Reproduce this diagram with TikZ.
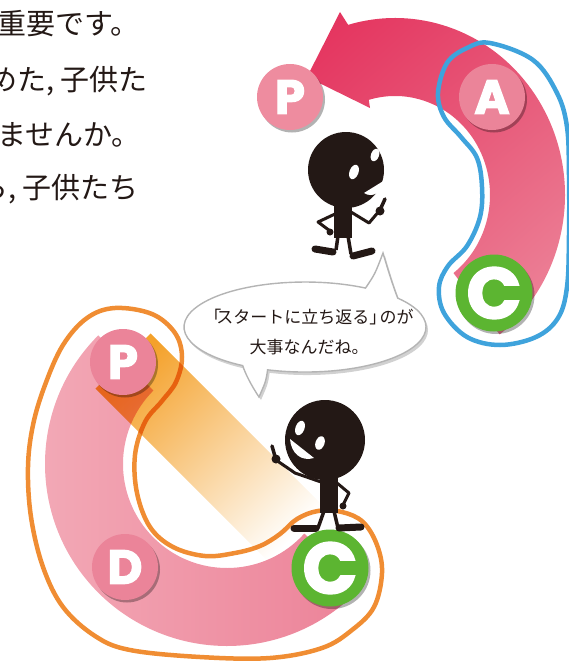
\documentclass[tikz,border=0pt]{standalone}
\usepackage{fontspec}
\newfontfamily\jpfont{Noto Sans CJK JP}
\newfontfamily\letterfont{Poppins}[BoldFeatures={FakeBold=2.5}]
\usetikzlibrary{calc,shadows,shadings}

\definecolor{inkc}{HTML}{231815}
\definecolor{arrowUL}{HTML}{E42F5B}
\definecolor{arrowUR}{HTML}{E65576}
\definecolor{arrowLL}{HTML}{E8607E}
\definecolor{arrowLR}{HTML}{EE8DA0}
\definecolor{bandL}{HTML}{F3AAB7}
\definecolor{bandR}{HTML}{EC8298}
\definecolor{pinkc}{HTML}{EB8499}
\definecolor{toppink}{HTML}{EE8C9F}
\definecolor{greenc}{HTML}{5CB531}
\definecolor{bluec}{HTML}{3FA3DC}
\definecolor{orangec}{HTML}{F08D33}
\definecolor{beamc}{HTML}{F4A12A}
\definecolor{bubbleline}{HTML}{B4B4B4}

\tikzset{
  bodytext/.style={font=\jpfont\fontsize{29}{29}\selectfont, text=inkc, inner sep=0pt, anchor=base west},
  stagecircle/.style={circle, inner sep=0pt, text=white,
    drop shadow={shadow xshift=2pt, shadow yshift=-2.5pt, opacity=0.3, fill=black}},
  pinkstage/.style={stagecircle, fill=pinkc, minimum size=66pt,
    font=\letterfont\bfseries\fontsize{48}{48}\selectfont},
  greenstage/.style={stagecircle, fill=greenc, minimum size=77pt,
    font=\letterfont\bfseries\fontsize{72}{72}\selectfont},
  limb/.style={inkc, line width=3pt, line join=round, line cap=round},
  leg/.style={inkc, line width=3.5pt},
  foot/.style={inkc, line width=7pt, line cap=round},
  outline/.style={line width=4.5pt},
}

\begin{document}
\begin{tikzpicture}[x=1pt,y=-1pt]
\useasboundingbox (0,0) rectangle (569,661);

% ---- body text on the left (runs on past the page edge) ----
\node[bodytext] (line1) at (-3,35)  {重要です。};
\node[bodytext] (line2) at (-12,90)  {めた, 子供た};
\node[bodytext] (line3) at (-3,145) {ませんか。};
\node[bodytext] (line4) at (-21,198) {ら, 子供たち};

% ---- upper cycle: curved arrow C -> A -> P ----
\shade[upper left=arrowUL, upper right=arrowUR, lower left=arrowLL, lower right=arrowLR]
  (395,195) ++(52:170 and 177)
  arc[start angle=52, end angle=-106, x radius=170, y radius=177]
  -- (340,12) -- (307,77) -- (370,108)
  -- ($(395,195)+(-106:95 and 99)$)
  arc[start angle=-106, end angle=52, x radius=95, y radius=99]
  -- cycle;

% blue loop around A and C
\draw[bluec, outline] plot[smooth cycle, tension=0.6] coordinates {
  (490,43) (533,60) (557,93) (567,127) (569,175) (569,235) (567,287)
  (558,318) (536,337) (500,345) (467,337) (444,313) (439,287) (448,266)
  (467,246) (480,217) (482,187) (477,158) (461,137) (444,117) (438,93)
  (447,63) (467,48)};

\node[pinkstage, fill=toppink] (P1) at (290,97) {P};
\node[pinkstage] (A1) at (492,97) {A};
\node[greenstage] (C1) at (494,293) {C};

% ---- lower cycle: P -> D -> C band ----
\shade[left color=bandL, right color=bandR]
  (227,464) ++(-135:182)
  arc[start angle=-135, end angle=-318, radius=182]
  -- ($(227,464)+(-318:104)$)
  arc[start angle=-318, end angle=-135, radius=104]
  -- cycle;

% orange loop around the lower band
\draw[orangec, outline] plot[smooth cycle, tension=0.6] coordinates {
  (115,308) (152,314) (175,333) (182,357) (176,382) (162,401) (145,422)
  (135,455) (137,493) (150,527) (173,547) (205,556) (235,553) (260,546)
  (280,534) (297,519) (318,511) (342,512) (363,522) (377,545) (382,573)
  (374,607) (352,630) (322,648) (270,658) (200,657) (130,650) (95,636)
  (63,607) (43,567) (31,517) (28,467) (33,425) (45,385) (63,345) (87,318)};

% light beam from P towards the lower C
\begin{scope}[blend mode=multiply]
  \shade[top color=beamc, middle color=beamc!85, bottom color=white, shading angle=45]
    (150.6,333.4) -- (330.6,513.4) -- (275.4,568.6) -- (95.4,388.6) -- cycle;
\end{scope}

\node[pinkstage] (P2) at (123,362) {P};
\node[pinkstage] (D2) at (125,567) {D};
\node[greenstage] (C2) at (330,568) {C};

% ---- speech bubble ----
\def\bubblepath{(397.7,298.1)
  arc[start angle=-40, end angle=108, x radius=121, y radius=45]
  .. controls (266,381) .. (259,397)
  .. controls (251,385) and (245,373) .. (242.7,365.6)
  arc[start angle=121, end angle=300, x radius=121, y radius=45]
  .. controls (375,274) .. (383,253)
  .. controls (388,270) and (393,286) .. (397.7,298.1) -- cycle}
\fill[black, opacity=0.18] [xshift=2pt, yshift=-3pt] \bubblepath;
\filldraw[fill=white, draw=bubbleline, line width=1.4pt] \bubblepath;
\node[font=\jpfont\fontsize{17}{30}\selectfont, text=inkc, align=center, inner sep=0pt]
  (say) at (309,332) {「\kern-0.3em スタートに立ち返る」\kern-0.4em のが\\大事なんだね。};

% ---- upper figure (facing right) ----
\fill[inkc] (334,198) rectangle (352,238);
\fill[inkc] (346,170) circle (38);
\fill[white, rotate around={-20:(354,172)}] (354,172) ellipse (4.5 and 7.5);
\fill[white, rotate around={-20:(375,155)}] (375,155) ellipse (4 and 6.5);
\fill[white] (364,193) -- (385,180) .. controls (384,191) and (373,199) .. (364,193) -- cycle;
\draw[limb] (335,214) -- (318,222) -- (330,231);
\fill[inkc] (330,232) circle (3.5);
\draw[limb] (351,212) -- (369,223) -- (380,210);
\draw[inkc, line width=3.5pt, line cap=round] (380,210) -- (385,199);
\fill[inkc] (380,211) circle (4.5);
\draw[leg] (338,236) -- (336,250);
\draw[leg] (348,236) -- (351,254);
\draw[foot] (315,249) -- (333,252);
\draw[foot] (353,256) -- (372,251);

% ---- lower figure (facing left, standing on C) ----
\fill[inkc] (320,470) rectangle (338,513);
\fill[inkc] (325,440) circle (40);
\fill[white, rotate around={-20:(300,428)}] (300,428) ellipse (4.5 and 7.5);
\fill[white, rotate around={-20:(320,443)}] (320,443) ellipse (4.5 and 7);
\fill[white] (290,439) -- (314,458) .. controls (301,462) and (291,453) .. (290,439) -- cycle;
\draw[limb] (321,482) -- (295,473) -- (276,460);
\draw[inkc, line width=3.5pt, line cap=round] (276,460) -- (272,446);
\fill[inkc] (276,459) circle (4.5);
\draw[limb] (337,483) -- (349,493) -- (343,505);
\fill[inkc] (343,506) circle (3.5);
\draw[leg] (324,511) -- (318,528);
\draw[leg] (334,511) -- (338,528);
\draw[foot] (294,528) -- (316,528);
\draw[foot] (339,528) -- (361,527);
\end{tikzpicture}
\end{document}
